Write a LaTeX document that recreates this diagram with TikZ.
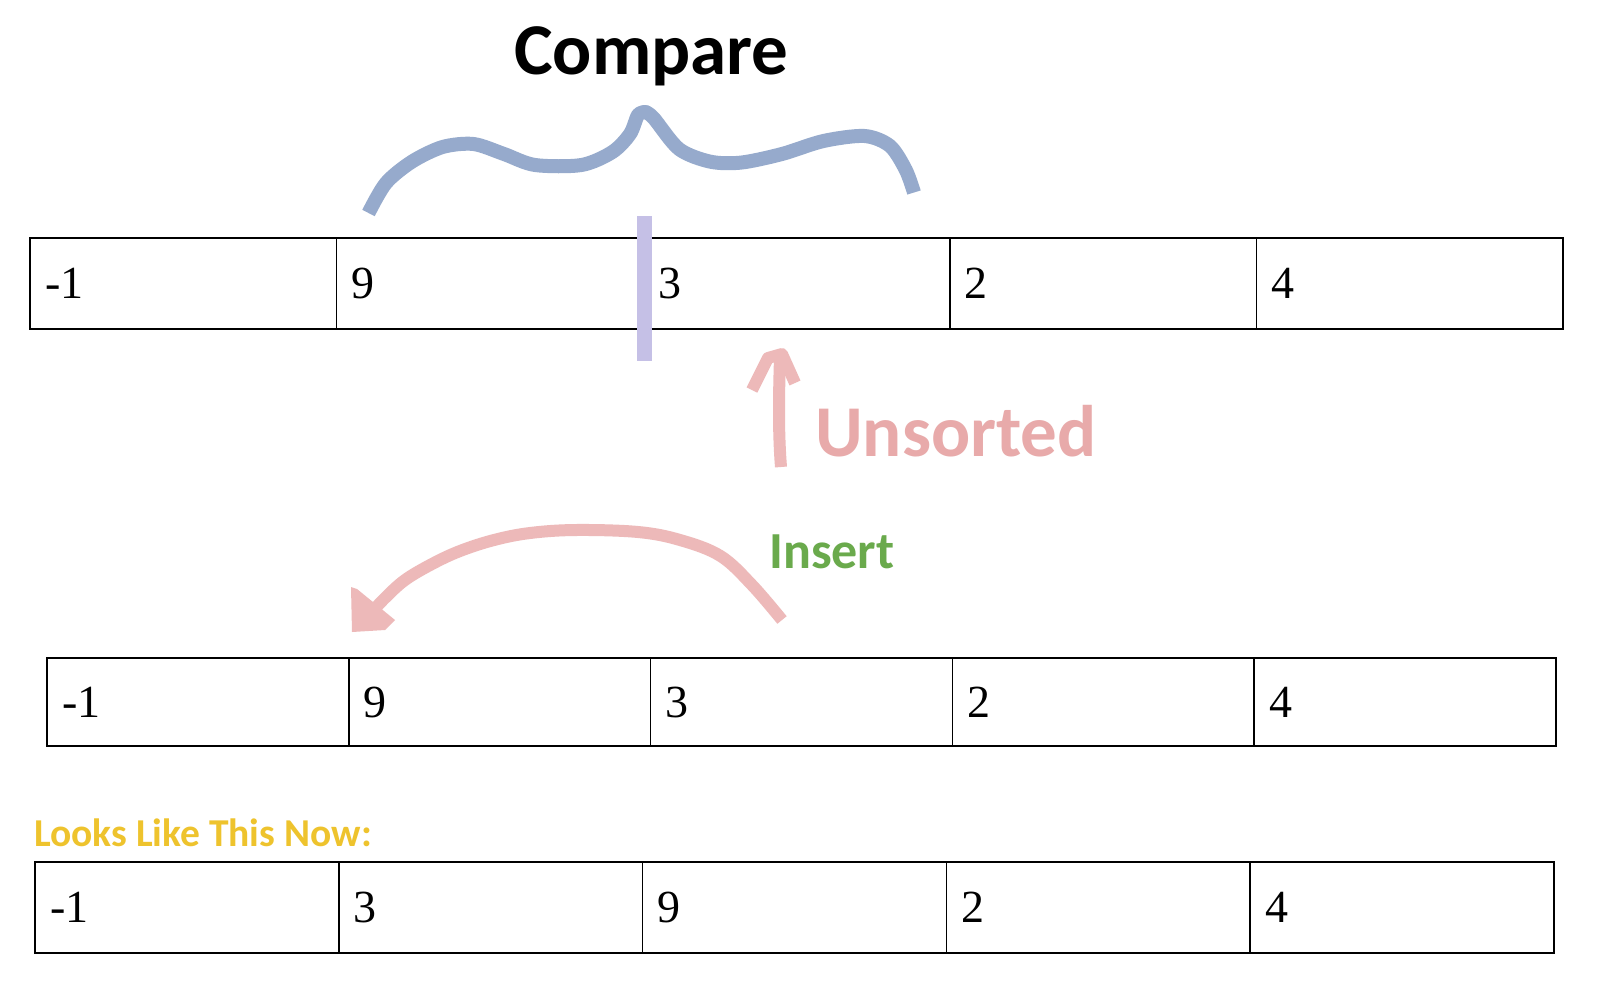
\documentclass[tikz,border=0pt]{standalone}
\usepackage{fontspec}
\setmainfont{Liberation Serif}
\newfontfamily\calfont{Carlito}
\definecolor{bracecol}{RGB}{150,170,204}
\definecolor{barcol}{RGB}{197,192,230}
\definecolor{pinkcol}{RGB}{237,185,185}
\definecolor{unsortcol}{RGB}{232,170,170}
\definecolor{insertcol}{RGB}{106,170,76}
\definecolor{goldcol}{RGB}{238,195,45}
\tikzset{
  cell/.style={draw=black, line width=1.6pt, minimum height=#1, inner xsep=15pt, inner ysep=0pt, align=left, font=\fontsize{46}{46}\selectfont},
  marker/.style={line width=14pt, line cap=butt, line join=round},
}
\begin{document}
\begin{tikzpicture}[x=1pt,y=-1pt]
\fill[white] (0,0) rectangle (1614,985);
\useasboundingbox (0,0) rectangle (1614,985);
% row 1
\foreach \v [count=\i] in {-1,9,3,2,4}
  \node[cell=91pt, text width=276.6pt] (a\i) at ({30+306.6*(\i-0.5)},283.5) {\v};
% row 2
\foreach \v [count=\i] in {-1,9,3,2,4}
  \node[cell=88pt, text width=271.8pt] (b\i) at ({47+301.8*(\i-0.5)},702) {\v};
% row 3
\foreach \v [count=\i] in {-1,3,9,2,4}
  \node[cell=91pt, text width=273.8pt] (c\i) at ({35+303.8*(\i-0.5)},907.5) {\v};
% labels
\node[anchor=base west, inner sep=0pt, font=\calfont\bfseries\fontsize{73}{73}\selectfont] (compare) at (514,74) {Compare};
\node[anchor=base west, inner sep=0pt, text=unsortcol, font=\calfont\bfseries\fontsize{73}{73}\selectfont] (unsorted) at (815,456) {Unsorted};
\node[anchor=base west, inner sep=0pt, text=insertcol, font=\calfont\bfseries\fontsize{52}{52}\selectfont] (insert) at (769,568) {Insert};
\node[anchor=base west, inner sep=0pt, text=goldcol, font=\calfont\bfseries\fontsize{39.5}{39.5}\selectfont] (looks) at (34,846) {Looks Like This Now:};
% brace
\draw[marker, bracecol] plot[smooth, tension=0.5] coordinates {
 (368.5,213) (386,183) (412,161.6) (442.6,147) (473.5,144) (504,154) (535,165)
 (581.5,165) (612.4,152) (630,134) (638,115) (645.4,112)};
\draw[marker, bracecol] plot[smooth, tension=0.5] coordinates {
 (645.4,112) (653.6,118) (679,149) (710,161.6) (741,162.6) (782,154) (823.4,141)
 (864.6,136) (890,146) (905.8,170) (914,192.5)};
\fill[bracecol] (645.4,112) circle (7pt);
% divider bar
\coordinate (bartop) at (644,216);
\coordinate (barbot) at (644,361);
\draw[line width=15pt, barcol] (bartop) -- (barbot);
% unsorted arrow
\coordinate (ua) at (781,467);
\coordinate (ub) at (780,357);
\draw[line width=12pt, pinkcol, line cap=butt, line join=round] (ua) .. controls (778,430) and (779,390) .. (ub);
\draw[line width=12pt, pinkcol, line join=round] (752,390) -- (768,358) -- (782,354) -- (795,383);
% insert arrow
\coordinate (ia) at (782,620);
\coordinate (ib) at (372,612);
\draw[line width=12pt, pinkcol] plot[smooth, tension=0.6] coordinates {
 (782,620) (752,585) (720.5,556) (680,540) (638,532) (576,530) (530,533) (494,540) (460,551) (432,564) (405,580) (385,598) (372,612)};
\fill[pinkcol] (351,587) -- (357,589) -- (395,620) -- (385,630) -- (352,632) -- cycle;
\end{tikzpicture}
\end{document}
